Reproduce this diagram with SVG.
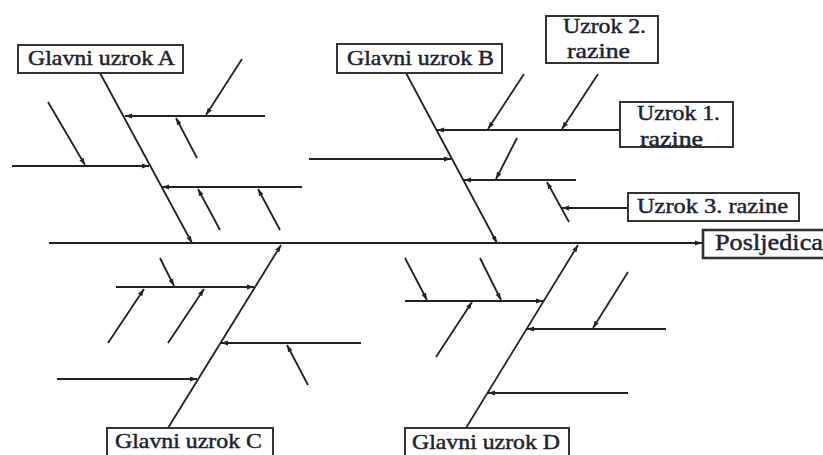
<svg xmlns="http://www.w3.org/2000/svg" width="823" height="455" viewBox="0 0 823 455">
<style>
.ln{stroke:#222;stroke-width:1.8;fill:none}
.ar{marker-end:url(#ah)}
.bx{fill:#fff;stroke:#333;stroke-width:2}
.tx{font-family:"Liberation Serif","DejaVu Serif",serif;font-size:21px;fill:#1e2230;stroke:#1e2230;stroke-width:0.45}
</style>
<defs>
<marker id="ah" viewBox="0 0 10 10" refX="10" refY="5" markerWidth="7" markerHeight="7" markerUnits="userSpaceOnUse" orient="auto">
<path d="M0,1.5 L10,5 L0,8.5 z" fill="#222"/>
</marker>
</defs>
<rect width="823" height="455" fill="#fff"/>
<g id="connectors">
<line class="ln ar" x1="49" y1="243" x2="702" y2="243"/>
<line class="ln ar" x1="100" y1="73" x2="192" y2="243"/>
<line class="ln ar" x1="406" y1="73" x2="497" y2="243"/>
<line class="ln ar" x1="168" y1="428" x2="281" y2="245"/>
<line class="ln ar" x1="466" y1="428" x2="578" y2="245"/>
<line class="ln ar" x1="265" y1="116" x2="125" y2="116"/>
<line class="ln ar" x1="242" y1="59" x2="206" y2="115"/>
<line class="ln ar" x1="197" y1="158" x2="176" y2="118"/>
<line class="ln ar" x1="12" y1="166" x2="149" y2="166"/>
<line class="ln ar" x1="48" y1="102" x2="85" y2="165"/>
<line class="ln ar" x1="302" y1="187" x2="162" y2="187"/>
<line class="ln ar" x1="220" y1="230" x2="198" y2="189"/>
<line class="ln ar" x1="280" y1="230" x2="258" y2="189"/>
<line class="ln ar" x1="620" y1="130" x2="437" y2="130"/>
<line class="ln ar" x1="524" y1="74" x2="488" y2="129"/>
<line class="ln ar" x1="598" y1="74" x2="562" y2="129"/>
<line class="ln ar" x1="309" y1="159" x2="451" y2="159"/>
<line class="ln ar" x1="576" y1="180" x2="464" y2="180"/>
<line class="ln ar" x1="517" y1="138" x2="496" y2="179"/>
<line class="ln ar" x1="569" y1="222" x2="547" y2="182"/>
<line class="ln ar" x1="628" y1="208" x2="562" y2="208"/>
<line class="ln ar" x1="116" y1="287" x2="254" y2="287"/>
<line class="ln ar" x1="160" y1="258" x2="174" y2="286"/>
<line class="ln ar" x1="108" y1="343" x2="144" y2="289"/>
<line class="ln ar" x1="168" y1="343" x2="204" y2="289"/>
<line class="ln ar" x1="361" y1="343" x2="221" y2="343"/>
<line class="ln ar" x1="308" y1="385" x2="287" y2="345"/>
<line class="ln ar" x1="57" y1="379" x2="197" y2="379"/>
<line class="ln ar" x1="405" y1="301" x2="543" y2="301"/>
<line class="ln ar" x1="405" y1="258" x2="427" y2="300"/>
<line class="ln ar" x1="480" y1="258" x2="501" y2="300"/>
<line class="ln ar" x1="436" y1="357" x2="472" y2="302"/>
<line class="ln ar" x1="666" y1="329" x2="527" y2="329"/>
<line class="ln ar" x1="628" y1="272" x2="593" y2="328"/>
<line class="ln ar" x1="628" y1="393" x2="488" y2="393"/>
</g>
<g id="glavni-uzrok-a">
<rect class="bx" x="18" y="45" width="165" height="28"/>
<text class="tx" x="28" y="65" textLength="147" lengthAdjust="spacingAndGlyphs">Glavni uzrok A</text>
</g>
<g id="glavni-uzrok-b">
<rect class="bx" x="337" y="44" width="165" height="29"/>
<text class="tx" x="347" y="65" textLength="147" lengthAdjust="spacingAndGlyphs">Glavni uzrok B</text>
</g>
<g id="uzrok-2-razine">
<rect class="bx" x="546" y="16" width="112" height="47"/>
<text class="tx" x="563" y="33" textLength="83" lengthAdjust="spacingAndGlyphs">Uzrok 2.</text>
<text class="tx" x="567" y="58" textLength="63" lengthAdjust="spacingAndGlyphs">razine</text>
</g>
<g id="uzrok-1-razine">
<rect class="bx" x="620" y="102" width="113" height="45"/>
<text class="tx" x="637" y="120" textLength="83" lengthAdjust="spacingAndGlyphs">Uzrok 1.</text>
<text class="tx" x="640" y="146" textLength="63" lengthAdjust="spacingAndGlyphs">razine</text>
</g>
<g id="uzrok-3-razine">
<rect class="bx" x="628" y="193" width="171" height="28"/>
<text class="tx" x="637" y="213" textLength="151" lengthAdjust="spacingAndGlyphs">Uzrok 3. razine</text>
</g>
<g id="posljedica">
<rect class="bx" x="703" y="230" width="126" height="28" style="stroke-width:2.6"/>
<text class="tx" x="715" y="250" textLength="108" lengthAdjust="spacingAndGlyphs" style="font-size:23px">Posljedica</text>
</g>
<g id="glavni-uzrok-c">
<rect class="bx" x="107" y="428" width="166" height="40"/>
<text class="tx" x="115" y="448" textLength="147" lengthAdjust="spacingAndGlyphs">Glavni uzrok C</text>
</g>
<g id="glavni-uzrok-d">
<rect class="bx" x="405" y="428" width="164" height="40"/>
<text class="tx" x="412" y="449" textLength="148" lengthAdjust="spacingAndGlyphs">Glavni uzrok D</text>
</g>
</svg>
